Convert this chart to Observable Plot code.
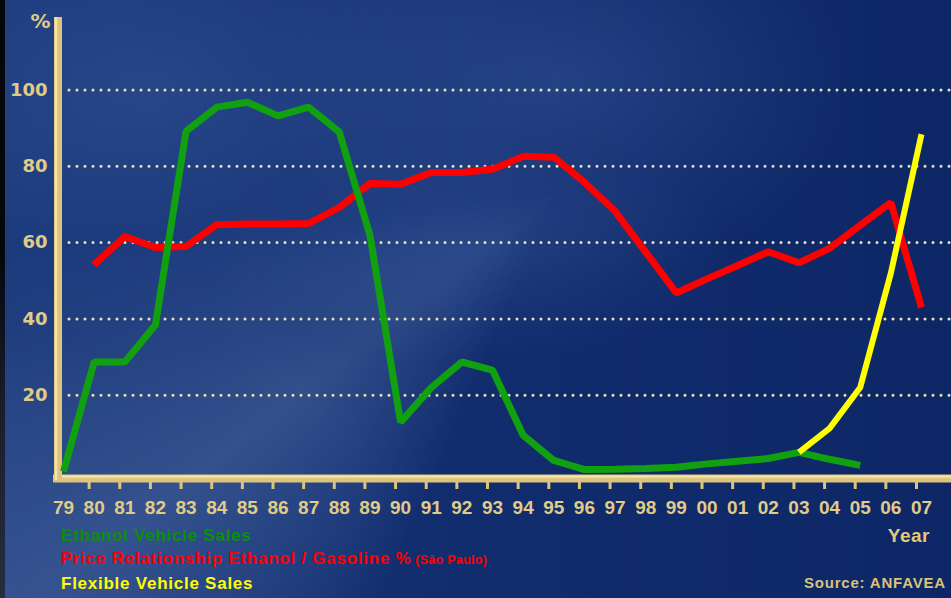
<!DOCTYPE html>
<html>
<head>
<meta charset="utf-8">
<script src="https://cdn.jsdelivr.net/npm/d3@7"></script>
<script src="https://cdn.jsdelivr.net/npm/@observablehq/plot@0.6"></script>
<style>
  html, body { margin: 0; padding: 0; }
  body {
    width: 951px; height: 598px; overflow: hidden; position: relative;
    font-family: "Liberation Sans", Arial, sans-serif;
    background:
      linear-gradient(90deg, #05070d 0, #05070d 5px, rgba(0,0,0,0) 5px),
      radial-gradient(ellipse 420px 260px at 150px 90px, rgba(60,95,165,0.45), rgba(0,0,0,0) 100%),
      radial-gradient(ellipse 300px 200px at 560px 80px, rgba(70,105,175,0.35), rgba(0,0,0,0) 100%),
      radial-gradient(ellipse 260px 110px at 470px 250px, rgba(90,125,190,0.20), rgba(0,0,0,0) 100%),
      linear-gradient(90deg, #173576 0%, #112c6d 55%, #0d2766 100%);
  }
  #rays {
    position: absolute; left: 0; top: 0; width: 951px; height: 598px;
    background: conic-gradient(from 0deg at 560px 190px, rgba(0,0,0,0) 0deg 203deg, rgba(150,180,235,0.10) 214deg, rgba(165,195,240,0.22) 232deg, rgba(150,180,235,0.12) 250deg, rgba(0,0,0,0) 264deg 360deg);
    -webkit-mask-image: radial-gradient(circle at 560px 190px, rgba(0,0,0,0) 0px, rgba(0,0,0,0.6) 160px, #000 330px);
    mask-image: radial-gradient(circle at 560px 190px, rgba(0,0,0,0) 0px, rgba(0,0,0,0.6) 160px, #000 330px);
  }
  #chart { position: absolute; left: 0; top: 0; }
  #legend { position: absolute; left: 61px; top: 524px; font-weight: bold; font-size: 17px; line-height: 23px; letter-spacing: 0.75px; }
  #legend span.small { font-size: 12.5px; letter-spacing: 0.3px; }
  #year { position: absolute; right: 21px; top: 525px; font-weight: bold; font-size: 19px; color: #e2c97e; letter-spacing: 0.5px; }
  #source { position: absolute; right: 5px; top: 574px; font-weight: bold; font-size: 15px; color: #d9c27c; letter-spacing: 0.8px; }
</style>
</head>
<body>
<div id="rays"></div>
<div id="chart"></div>
<div id="legend"></div>
<div id="year"></div>
<div id="source"></div>
<script>
// ---- data ----
const ethanolYears = [1979,1980,1981,1982,1983,1984,1985,1986,1987,1988,1989,1990,1991,1992,1993,1994,1995,1996,1997,1998,1999,2000,2001,2002,2003,2004,2005];
const ethanolSales = [0,28.7,28.7,38.4,89.2,95.5,96.8,93.2,95.5,89,62,12.9,22,28.7,26.6,9.5,2.9,0.5,0.6,0.8,1.1,2.0,2.7,3.4,5.0,3.2,1.6];

const priceYears = [1980,1981,1982,1983,1984,1985,1986,1987,1988,1989,1990,1991,1992,1993,1994,1995,1996,1997,1998,1999,2000,2001,2002,2003,2004,2005,2006,2007];
const priceRatio = [54.2,61.6,58.7,59,64.7,64.9,64.9,65,69.2,75.5,75.3,78.4,78.4,79.2,82.6,82.4,75.8,68.2,57.5,46.8,50.5,54,57.6,54.7,58.5,64.5,70.5,43];

const flexYears = [2003,2004,2005,2006,2007];
const flexSales = [5,11.3,22,52,88.4];

const yTicks = [20,40,60,80,100];
const xLabelYears = [1979,1980,1981,1982,1983,1984,1985,1986,1987,1988,1989,1990,1991,1992,1993,1994,1995,1996,1997,1998,1999,2000,2001,2002,2003,2004,2005,2006,2007];
const xTickYears = [1980,1981,1982,1983,1984,1985,1986,1987,1988,1989,1990,1991,1992,1993,1994,1995,1996,1997,1998,1999,2000,2001,2002,2003,2004,2005,2006,2007];

const seriesNames = ["Ethanol Vehicle Sales", "Price Relationship Ethanol / Gasoline %", "Flexible Vehicle Sales"];
const seriesNote = "(São Paulo)";
const yAxisLabel = "%";
const xAxisLabel = "Year";
const sourceText = "Source: ANFAVEA";

// ---- styles ----
const GREEN = "#10a010", GREEN_TEXT = "#0b8f0b", RED = "#ff0000", YELLOW = "#ffff00";
const BEIGE = "#e0cb88", BAR = "#dcc47c", BAR_HI = "#f4e3a6", DOT = "#ede3b4";

const ethanol = ethanolYears.map((y, i) => ({year: y, value: ethanolSales[i]}));
const price = priceYears.map((y, i) => ({year: y, value: priceRatio[i]}));
const flex = flexYears.map((y, i) => ({year: y, value: flexSales[i]}));

const fmt = d => String(d % 100).padStart(2, "0");

const chart = Plot.plot({
  width: 951,
  height: 520,
  marginLeft: 63,
  marginRight: 30,
  marginTop: 17,
  marginBottom: 49,
  style: {background: "transparent", fontFamily: "'Liberation Sans', Arial, sans-serif", fontWeight: "bold", color: BEIGE, overflow: "visible"},
  x: {type: "linear", domain: [1979, 2007]},
  y: {domain: [0, 119]},
  marks: [
    // dotted gridlines
    Plot.ruleY(yTicks, {stroke: DOT, strokeWidth: 3, strokeDasharray: "0 8", strokeLinecap: "round", insetLeft: 6, insetRight: -30}),
    // y tick labels
    Plot.axisY(yTicks, {tickSize: 0, tickPadding: 16, fontSize: 18, fontFamily: "'DejaVu Sans', Verdana, sans-serif", fill: BEIGE, label: null, tickFormat: d => d}),
    // "%" label
    Plot.text([yAxisLabel], {frameAnchor: "top-left", lineAnchor: "middle", dx: -33, dy: 4, fontSize: 20, fontFamily: "'DejaVu Sans', Verdana, sans-serif", fill: BEIGE, fontWeight: "bold"}),
    // x tick labels
    Plot.axisX(xLabelYears, {tickSize: 0, tickPadding: 29, fontSize: 19, fill: BEIGE, label: null, tickFormat: fmt, style: {letterSpacing: "0.6px"}}),
    // x tick marks
    Plot.axisX(xTickYears, {text: null, tickSize: 7, dy: 11, dx: -5, stroke: BAR, strokeWidth: 3, label: null, strokeLinecap: "butt"}),
    // axis bars
    Plot.ruleY([0], {dy: 7, stroke: BAR, strokeWidth: 8, insetLeft: -10, insetRight: -30, strokeLinecap: "butt"}),
    Plot.ruleY([0], {dy: 5, stroke: BAR_HI, strokeWidth: 2.5, insetLeft: -8, insetRight: -30, strokeLinecap: "butt"}),
    Plot.ruleX([1979], {dx: -5.5, stroke: BAR, strokeWidth: 8, insetBottom: -11, strokeLinecap: "butt"}),
    Plot.ruleX([1979], {dx: -7.5, stroke: BAR_HI, strokeWidth: 2.5, insetBottom: -9, strokeLinecap: "butt"}),
    // series
    Plot.line(price, {x: "year", y: "value", stroke: RED, strokeWidth: 7, strokeLinejoin: "miter", strokeLinecap: "butt"}),
    Plot.line(ethanol, {x: "year", y: "value", stroke: GREEN, strokeWidth: 7, strokeLinejoin: "miter", strokeLinecap: "butt"}),
    Plot.line(flex, {x: "year", y: "value", stroke: YELLOW, strokeWidth: 6, strokeLinejoin: "miter", strokeLinecap: "butt"})
  ]
});
document.getElementById("chart").appendChild(chart);

const colors = [GREEN_TEXT, RED, YELLOW];
const legend = document.getElementById("legend");
seriesNames.forEach((name, i) => {
  const div = document.createElement("div");
  div.style.color = colors[i];
  div.textContent = name;
  if (i === 1) {
    const s = document.createElement("span");
    s.className = "small";
    s.textContent = " " + seriesNote;
    div.appendChild(s);
  }
  legend.appendChild(div);
});
document.getElementById("year").textContent = xAxisLabel;
document.getElementById("source").textContent = sourceText;
</script>
</body>
</html>
